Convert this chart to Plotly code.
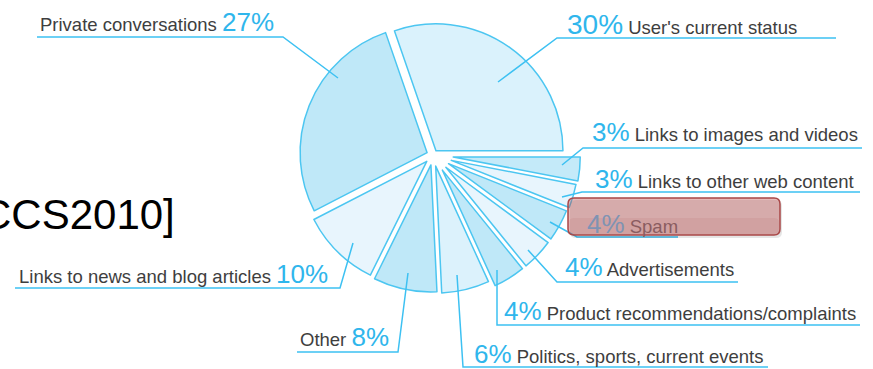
import plotly.graph_objects as go

# Share of tweet content by category (percent), counter-clockwise from 3 o'clock
categories = [
    "User's current status",
    "Private conversations",
    "Links to news and blog articles",
    "Other",
    "Politics, sports, current events",
    "Product recommendations/complaints",
    "Advertisements",
    "Spam",
    "Links to other web content",
    "Links to images and videos",
]
shares = [30, 27, 10, 8, 6, 4, 4, 4, 3, 3]

W, H = 873, 369


def px(x):
    return x / W


def py(y):
    return 1 - y / H


# slice styling
slice_fill = ["#daf2fc", "#bfe8f8", "#e8f5fd", "#bfe8f8", "#dcf2fc",
              "#bfe8f8", "#e8f5fd", "#bfe8f8", "#e8f5fd", "#c4eaf9"]
slice_pull = [0.04, 0.05, 0.07, 0.08, 0.09, 0.14, 0.14, 0.14, 0.15, 0.16]
OUTLINE = "#4cc6f1"
LEADER = "#3dc1f2"
PCT = "#2fb6ec"
GREY = "#3e3e3e"

# pie geometry in pixels
cx, cy, R = 433, 155, 127
half = R * (1 + max(slice_pull))

# counter-clockwise pies in plotly end their first slice at `rotation`;
# shift so the first slice begins at 3 o'clock
first_span = 360 * shares[0] / sum(shares)
rotation = 90 - first_span

fig = go.Figure(go.Pie(
    labels=categories,
    values=shares,
    sort=False,
    direction="counterclockwise",
    rotation=rotation,
    pull=slice_pull,
    marker=dict(colors=slice_fill, line=dict(color=OUTLINE, width=1.5)),
    textinfo="none",
    hoverinfo="skip",
    showlegend=False,
    domain=dict(x=[px(cx - half), px(cx + half)], y=[py(cy + half), py(cy - half)]),
))

# label placement: (text x, baseline y, pct first?, leader polyline)
placement = {
    "Private conversations": (38, 28, False, [(37, 37), (283, 37), (338, 78)]),
    "User's current status": (565, 30, True, [(836, 38), (557, 38), (498, 82)]),
    "Links to images and videos": (590, 138, True, [(862, 148), (583, 148), (562, 165)]),
    "Links to other web content": (593, 185, True, [(860, 192), (582, 192), (562, 197)]),
    "Spam": (585, 230, True, [(678, 237), (577, 237), (550, 222)]),
    "Advertisements": (563, 273, True, [(738, 282), (557, 282), (528, 250)]),
    "Product recommendations/complaints": (502, 317, True, [(860, 325), (497, 325), (497, 270)]),
    "Politics, sports, current events": (472, 360, True, [(768, 367), (463, 367), (457, 275)]),
    "Links to news and blog articles": (17, 280, False, [(15, 288), (340, 288), (353, 243)]),
    "Other": (298, 343, False, [(297, 352), (398, 352), (408, 273)]),
}

annotations = []
shapes = []
for name, val in zip(categories, shares):
    x0, base, pct_first, leader = placement[name]
    faded = name == "Spam"
    pct_col = "#7f93b3" if faded else PCT
    txt_col = "#8a5c60" if faded else GREY
    pct_size = 28 if val >= 30 else 26
    pct = f"<span style='font-size:{pct_size}px;color:{pct_col}'>{val}%</span>"
    lab = f"<span style='color:{txt_col}'>{name}</span>"
    text = f"{pct} {lab}" if pct_first else f"{lab} {pct}"
    annotations.append(dict(
        x=px(x0), y=py(base - 6), xref="paper", yref="paper",
        xanchor="left", yanchor="middle", showarrow=False,
        text=text, font=dict(family="Liberation Sans, Arial", size=18.5, color=GREY),
    ))
    path = "M " + " L ".join(f"{px(a)},{py(b)}" for a, b in leader)
    shapes.append(dict(type="path", xref="paper", yref="paper", path=path,
                       line=dict(color=LEADER, width=1.5)))


def rounded_rect(x0, y0, x1, y1, r):
    pts = [
        f"M {px(x0 + r)},{py(y0)}",
        f"L {px(x1 - r)},{py(y0)}",
        f"Q {px(x1)},{py(y0)} {px(x1)},{py(y0 + r)}",
        f"L {px(x1)},{py(y1 - r)}",
        f"Q {px(x1)},{py(y1)} {px(x1 - r)},{py(y1)}",
        f"L {px(x0 + r)},{py(y1)}",
        f"Q {px(x0)},{py(y1)} {px(x0)},{py(y1 - r)}",
        f"L {px(x0)},{py(y0 + r)}",
        f"Q {px(x0)},{py(y0)} {px(x0 + r)},{py(y0)}",
        "Z",
    ]
    return " ".join(pts)


# highlight box around the spam label
shapes.append(dict(type="path", xref="paper", yref="paper", layer="above",
                   path=rounded_rect(570, 200, 782, 238, 6),
                   fillcolor="rgba(0,0,0,0.10)", line=dict(width=0)))
shapes.append(dict(type="path", xref="paper", yref="paper", layer="above",
                   path=rounded_rect(568, 198, 780, 235, 6),
                   fillcolor="rgba(192,84,86,0.40)", line=dict(color="#a94747", width=1.5)))
shapes.append(dict(type="path", xref="paper", yref="paper", layer="above",
                   path=rounded_rect(569, 218, 779, 234, 5),
                   fillcolor="rgba(150,40,40,0.07)", line=dict(width=0)))

# citation tag at the left edge
annotations.append(dict(
    x=px(177), y=py(215), xref="paper", yref="paper",
    xanchor="right", yanchor="middle", showarrow=False,
    text="CCS2010]", font=dict(family="Liberation Sans, Arial", size=42, color="#000000"),
))

fig.update_layout(
    width=W, height=H,
    margin=dict(l=0, r=0, t=0, b=0),
    paper_bgcolor="white", plot_bgcolor="white",
    annotations=annotations, shapes=shapes,
)

fig.write_html("out.html")
